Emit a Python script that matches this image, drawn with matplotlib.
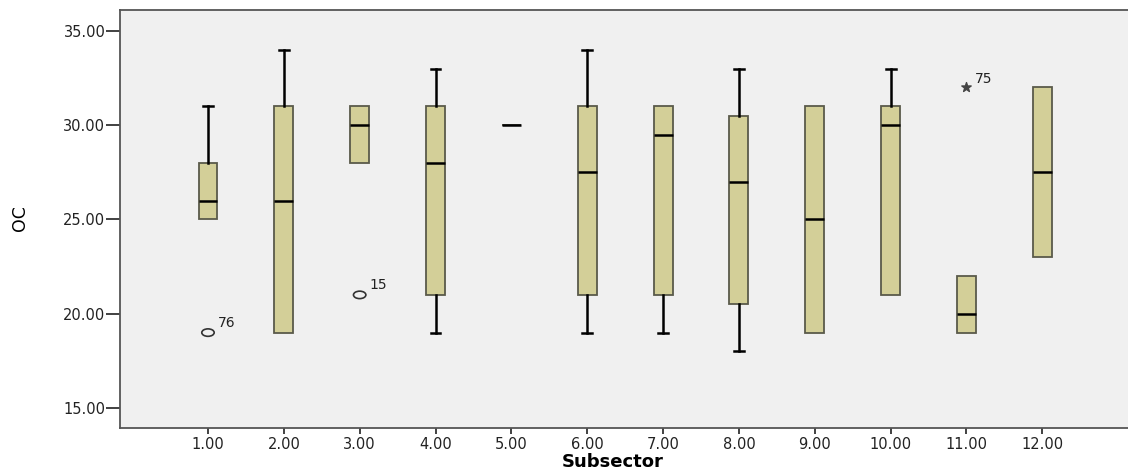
import matplotlib.pyplot as plt
from matplotlib.path import Path

# --- Data ---
subsectors = [1, 2, 3, 4, 5, 6, 7, 8, 9, 10, 11, 12]
tick_labels = ["1.00", "2.00", "3.00", "4.00", "5.00", "6.00",
               "7.00", "8.00", "9.00", "10.00", "11.00", "12.00"]
whisker_low = [25, 19, 28, 19, 30, 19, 19, 18, 19, 21, 19, 23]
q1 = [25, 19, 28, 21, 30, 21, 21, 20.5, 19, 21, 19, 23]
median = [26, 26, 30, 28, 30, 27.5, 29.5, 27, 25, 30, 20, 27.5]
q3 = [28, 31, 31, 31, 30, 31, 31, 30.5, 31, 31, 22, 32]
whisker_high = [31, 34, 31, 33, 30, 34, 31, 33, 31, 33, 22, 32]

# outliers (circle) and extremes (star): subsector, value, case id
outlier_x = [1, 3]
outlier_y = [19, 21]
outlier_id = ["76", "15"]
extreme_x = [11]
extreme_y = [32]
extreme_id = ["75"]

stats = []
for i in range(len(subsectors)):
    stats.append({
        "whislo": whisker_low[i], "q1": q1[i], "med": median[i],
        "q3": q3[i], "whishi": whisker_high[i], "fliers": [],
    })

# --- Plotting ---
fig = plt.figure(figsize=(11.28, 4.72), dpi=100)
ax = fig.add_axes([120 / 1128, 1 - 428 / 472, 1 - 120 / 1128, 418 / 472])
ax.set_facecolor("#f0f0f0")

parts = ax.bxp(stats, positions=subsectors, widths=0.25, patch_artist=True,
               showfliers=False,
               boxprops=dict(facecolor="#d3cf98", edgecolor="#5a5a4a", linewidth=1.3),
               medianprops=dict(color="black", linewidth=1.8),
               whiskerprops=dict(color="black", linewidth=1.8),
               capprops=dict(color="black", linewidth=1.8),
               capwidths=0.13)

# hide caps that sit on the box edge (no whisker there)
for i in range(len(subsectors)):
    if whisker_low[i] == q1[i]:
        parts["caps"][2 * i].set_visible(False)
    if whisker_high[i] == q3[i]:
        parts["caps"][2 * i + 1].set_visible(False)

# flat ellipse marker, like SPSS outlier circles
uc = Path.unit_circle()
ellipse = Path(uc.vertices * [1.0, 0.6], uc.codes)

ax.scatter(outlier_x, outlier_y, marker=ellipse, s=80, facecolors="none",
           edgecolors="#333333", linewidths=1.2, zorder=5)
for x, y, lab in zip(outlier_x, outlier_y, outlier_id):
    ax.annotate(lab, (x, y), xytext=(7, 4), textcoords="offset points",
                fontsize=10, color="#222222")
ax.scatter(extreme_x, extreme_y, marker="*", s=50, color="#444444", zorder=5)
for x, y, lab in zip(extreme_x, extreme_y, extreme_id):
    ax.annotate(lab, (x, y), xytext=(6, 3), textcoords="offset points",
                fontsize=10, color="#222222")

ax.set_xlim(-0.16, 13.13)
ax.set_ylim(13.94, 36.11)
ax.set_xticks(subsectors)
ax.set_xticklabels(tick_labels)
ax.set_yticks([15, 20, 25, 30, 35])
ax.set_yticklabels(["15.00", "20.00", "25.00", "30.00", "35.00"])
ax.tick_params(axis="both", labelsize=10.5, width=1.3,
               color="#333333", labelcolor="#222222")
ax.tick_params(axis="x", length=4.5, pad=2)
ax.tick_params(axis="y", length=10, pad=0.5)

for side in ["left", "bottom", "top"]:
    ax.spines[side].set_color("#555555")
    ax.spines[side].set_linewidth(1.3)
ax.spines["right"].set_visible(False)

ax.set_xlabel("Subsector", fontsize=13, fontweight="bold")
ax.xaxis.set_label_coords((613 - 120) / 1008, -(453 - 428) / 418)
ax.set_ylabel("OC", fontsize=12.5)
ax.yaxis.set_label_coords((29 - 120) / 1008, (428 - 218) / 418)

plt.savefig("out.png", dpi=100)
plt.close()
